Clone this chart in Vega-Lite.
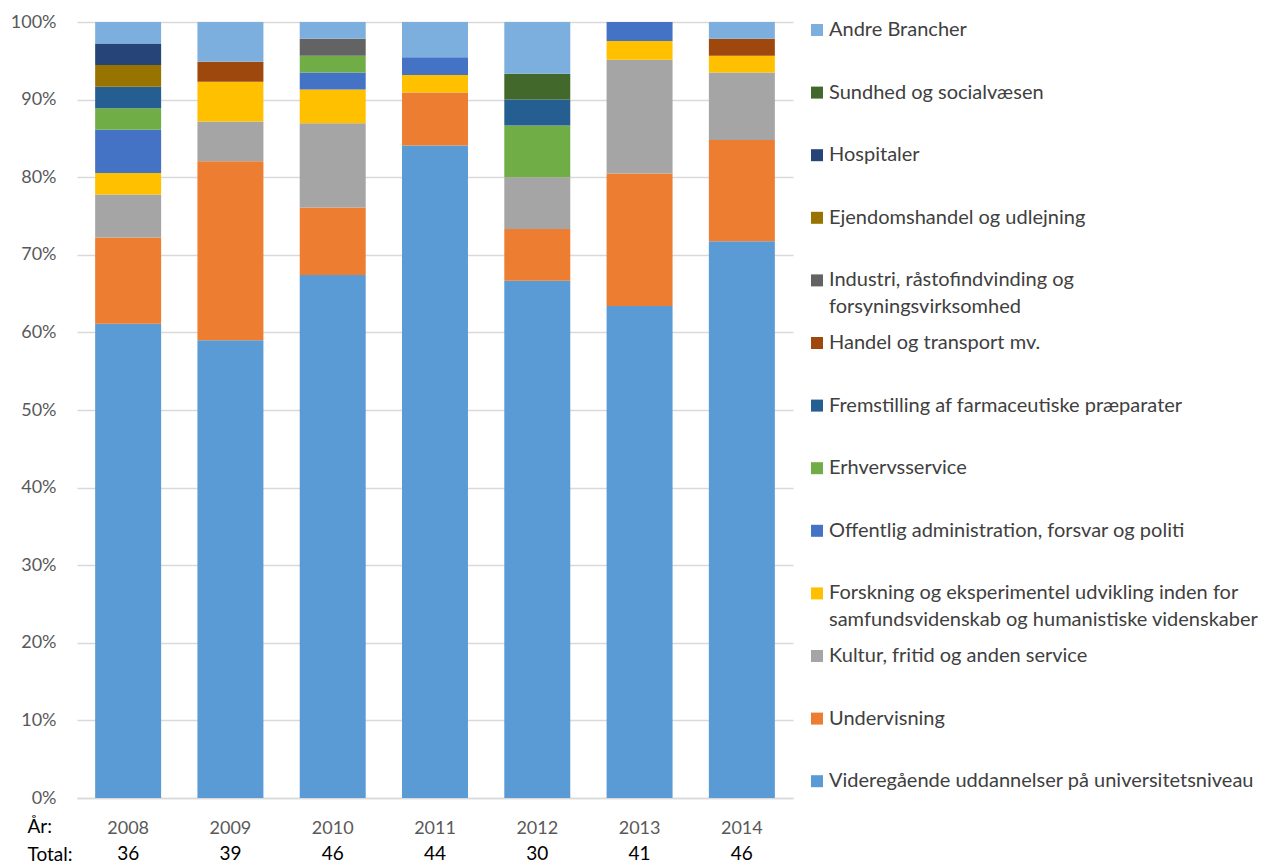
{
  "$schema": "https://vega.github.io/schema/vega-lite/v6.json",
  "autosize": {"type": "none"},
  "padding": {"left": 77, "top": 22, "right": 477, "bottom": 67},
  "width": 716,
  "height": 776,
  "background": "white",
  "config": {
    "view": {"stroke": null},
    "font": "Lato"
  },
  "data": {
    "values": [
      {"year": "2008", "cat": "Videregående uddannelser på universitetsniveau", "k": 1, "n": 22},
      {"year": "2008", "cat": "Undervisning", "k": 2, "n": 4},
      {"year": "2008", "cat": "Kultur, fritid og anden service", "k": 3, "n": 2},
      {"year": "2008", "cat": "Forskning og eksperimentel udvikling inden for samfundsvidenskab og humanistiske videnskaber", "k": 4, "n": 1},
      {"year": "2008", "cat": "Offentlig administration, forsvar og politi", "k": 5, "n": 2},
      {"year": "2008", "cat": "Erhvervsservice", "k": 6, "n": 1},
      {"year": "2008", "cat": "Fremstilling af farmaceutiske præparater", "k": 7, "n": 1},
      {"year": "2008", "cat": "Ejendomshandel og udlejning", "k": 10, "n": 1},
      {"year": "2008", "cat": "Hospitaler", "k": 11, "n": 1},
      {"year": "2008", "cat": "Andre Brancher", "k": 13, "n": 1},

      {"year": "2009", "cat": "Videregående uddannelser på universitetsniveau", "k": 1, "n": 23},
      {"year": "2009", "cat": "Undervisning", "k": 2, "n": 9},
      {"year": "2009", "cat": "Kultur, fritid og anden service", "k": 3, "n": 2},
      {"year": "2009", "cat": "Forskning og eksperimentel udvikling inden for samfundsvidenskab og humanistiske videnskaber", "k": 4, "n": 2},
      {"year": "2009", "cat": "Handel og transport mv.", "k": 8, "n": 1},
      {"year": "2009", "cat": "Andre Brancher", "k": 13, "n": 2},

      {"year": "2010", "cat": "Videregående uddannelser på universitetsniveau", "k": 1, "n": 31},
      {"year": "2010", "cat": "Undervisning", "k": 2, "n": 4},
      {"year": "2010", "cat": "Kultur, fritid og anden service", "k": 3, "n": 5},
      {"year": "2010", "cat": "Forskning og eksperimentel udvikling inden for samfundsvidenskab og humanistiske videnskaber", "k": 4, "n": 2},
      {"year": "2010", "cat": "Offentlig administration, forsvar og politi", "k": 5, "n": 1},
      {"year": "2010", "cat": "Erhvervsservice", "k": 6, "n": 1},
      {"year": "2010", "cat": "Industri, råstofindvinding og forsyningsvirksomhed", "k": 9, "n": 1},
      {"year": "2010", "cat": "Andre Brancher", "k": 13, "n": 1},

      {"year": "2011", "cat": "Videregående uddannelser på universitetsniveau", "k": 1, "n": 37},
      {"year": "2011", "cat": "Undervisning", "k": 2, "n": 3},
      {"year": "2011", "cat": "Forskning og eksperimentel udvikling inden for samfundsvidenskab og humanistiske videnskaber", "k": 4, "n": 1},
      {"year": "2011", "cat": "Offentlig administration, forsvar og politi", "k": 5, "n": 1},
      {"year": "2011", "cat": "Andre Brancher", "k": 13, "n": 2},

      {"year": "2012", "cat": "Videregående uddannelser på universitetsniveau", "k": 1, "n": 20},
      {"year": "2012", "cat": "Undervisning", "k": 2, "n": 2},
      {"year": "2012", "cat": "Kultur, fritid og anden service", "k": 3, "n": 2},
      {"year": "2012", "cat": "Erhvervsservice", "k": 6, "n": 2},
      {"year": "2012", "cat": "Fremstilling af farmaceutiske præparater", "k": 7, "n": 1},
      {"year": "2012", "cat": "Sundhed og socialvæsen", "k": 12, "n": 1},
      {"year": "2012", "cat": "Andre Brancher", "k": 13, "n": 2},

      {"year": "2013", "cat": "Videregående uddannelser på universitetsniveau", "k": 1, "n": 26},
      {"year": "2013", "cat": "Undervisning", "k": 2, "n": 7},
      {"year": "2013", "cat": "Kultur, fritid og anden service", "k": 3, "n": 6},
      {"year": "2013", "cat": "Forskning og eksperimentel udvikling inden for samfundsvidenskab og humanistiske videnskaber", "k": 4, "n": 1},
      {"year": "2013", "cat": "Offentlig administration, forsvar og politi", "k": 5, "n": 1},

      {"year": "2014", "cat": "Videregående uddannelser på universitetsniveau", "k": 1, "n": 33},
      {"year": "2014", "cat": "Undervisning", "k": 2, "n": 6},
      {"year": "2014", "cat": "Kultur, fritid og anden service", "k": 3, "n": 4},
      {"year": "2014", "cat": "Forskning og eksperimentel udvikling inden for samfundsvidenskab og humanistiske videnskaber", "k": 4, "n": 1},
      {"year": "2014", "cat": "Handel og transport mv.", "k": 8, "n": 1},
      {"year": "2014", "cat": "Andre Brancher", "k": 13, "n": 1}
    ]
  },
  "layer": [
    {
      "mark": {"type": "bar"},
      "encoding": {
        "x": {
          "field": "year",
          "type": "nominal",
          "scale": {"paddingInner": 0.355, "paddingOuter": 0.1775},
          "axis": {
            "title": ["År:", "Total:"],
            "titleAnchor": null,
            "titleAngle": 0,
            "titleAlign": "left",
            "titleBaseline": "top",
            "titleX": -50,
            "titleY": 19,
            "titleLineHeight": 28,
            "titleFont": "Lato",
            "titleFontSize": 19,
            "titleFontWeight": "normal",
            "titleColor": "#000000",
            "labelAngle": 0,
            "labelFont": "Lato",
            "labelFontSize": 18,
            "labelColor": "#595959",
            "labelPadding": 21,
            "ticks": false,
            "tickSize": 0,
            "domainColor": "#D9D9D9",
            "domainWidth": 1.5
          }
        },
        "y": {
          "aggregate": "sum",
          "field": "n",
          "type": "quantitative",
          "stack": "normalize",
          "axis": {
            "title": null,
            "values": [0, 0.1, 0.2, 0.3, 0.4, 0.5, 0.6, 0.7, 0.8, 0.9, 1],
            "format": ".0%",
            "labelFont": "Lato",
            "labelFontSize": 18,
            "labelColor": "#595959",
            "labelPadding": 21,
            "domain": false,
            "ticks": false,
            "gridColor": "#D9D9D9",
            "gridWidth": 1.5
          }
        },
        "order": {"field": "k", "type": "quantitative", "sort": "ascending"},
        "color": {
          "field": "cat",
          "type": "nominal",
          "scale": {
            "domain": [
              "Andre Brancher",
              "Sundhed og socialvæsen",
              "Hospitaler",
              "Ejendomshandel og udlejning",
              "Industri, råstofindvinding og forsyningsvirksomhed",
              "Handel og transport mv.",
              "Fremstilling af farmaceutiske præparater",
              "Erhvervsservice",
              "Offentlig administration, forsvar og politi",
              "Forskning og eksperimentel udvikling inden for samfundsvidenskab og humanistiske videnskaber",
              "Kultur, fritid og anden service",
              "Undervisning",
              "Videregående uddannelser på universitetsniveau"
            ],
            "range": ["#7CAFDD", "#43682B", "#264478", "#997300", "#636363", "#9E480E", "#255E91", "#70AD47", "#4472C4", "#FFC000", "#A5A5A5", "#ED7D31", "#5B9BD5"]
          },
          "legend": {
            "title": null,
            "orient": "none",
            "legendX": 730,
            "legendY": -2,
            "padding": 0,
            "gridAlign": "all",
            "rowPadding": 15.6,
            "symbolType": "square",
            "symbolSize": 144,
            "symbolStrokeWidth": 0,
            "symbolOffset": 0,
            "labelFont": "Lato",
            "labelFontSize": 20,
            "labelColor": "#404040",
            "labelLimit": 470,
            "labelOffset": 2,
            "labelBaseline": "top",
            "labelExpr": "datum.value == 'Industri, råstofindvinding og forsyningsvirksomhed' ? ['Industri, råstofindvinding og', 'forsyningsvirksomhed'] : datum.value == 'Forskning og eksperimentel udvikling inden for samfundsvidenskab og humanistiske videnskaber' ? ['Forskning og eksperimentel udvikling inden for', 'samfundsvidenskab og humanistiske videnskaber'] : datum.label",
            "encode": {
              "labels": {"update": {"dy": {"value": -10}, "lineHeight": {"value": 27}}}
            }
          }
        }
      }
    },
    {
      "transform": [
        {"aggregate": [{"op": "sum", "field": "n", "as": "total"}], "groupby": ["year"]}
      ],
      "mark": {"type": "text", "font": "Lato", "fontSize": 19, "color": "#000000", "baseline": "middle", "dy": 56},
      "encoding": {
        "x": {"field": "year", "type": "nominal"},
        "y": {"datum": 0, "type": "quantitative"},
        "text": {"field": "total", "type": "quantitative"}
      }
    }
  ]
}
